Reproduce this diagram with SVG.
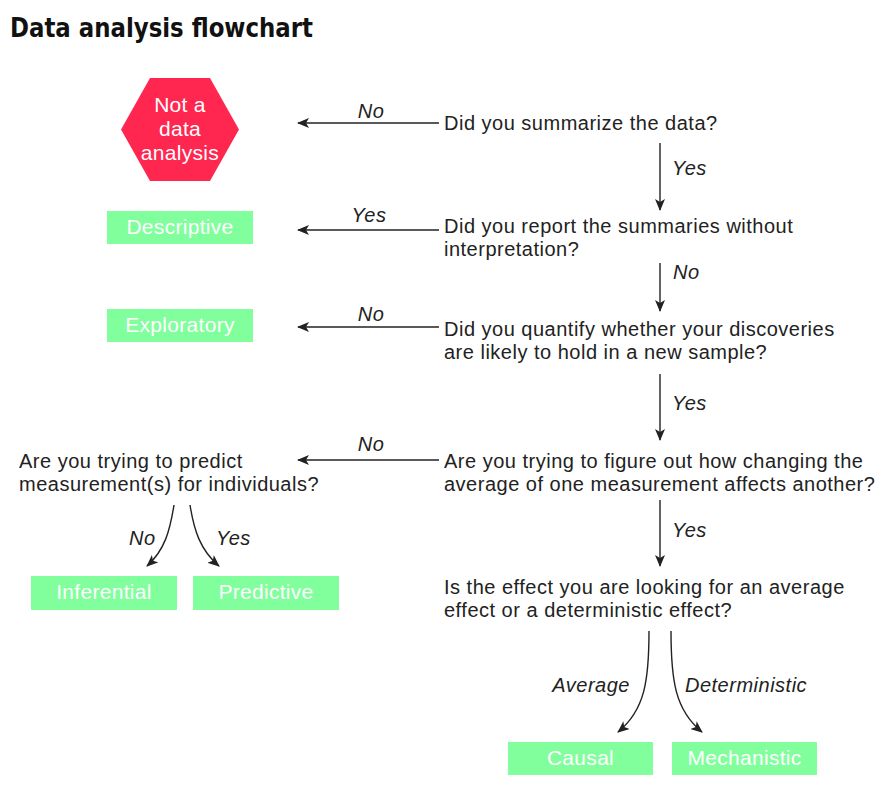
<svg xmlns="http://www.w3.org/2000/svg" width="882" height="787" viewBox="0 0 882 787">
<style>
.q{font-family:"Liberation Sans",Arial,sans-serif;font-size:20px;letter-spacing:0.5px;fill:#222}
.lbl{font-family:"Liberation Sans",Arial,sans-serif;font-size:20px;letter-spacing:0.5px;font-style:italic;fill:#222}
.box{fill:#80ff9c}
.bt{font-family:"Liberation Sans",Arial,sans-serif;font-size:21px;letter-spacing:0.3px;fill:#fff;text-anchor:middle}
.edge{fill:none;stroke:#222;stroke-width:1.4;marker-end:url(#ah)}
</style>
<defs>
<marker id="ah" viewBox="0 0 12 10" refX="11" refY="5" markerWidth="12" markerHeight="10" markerUnits="userSpaceOnUse" orient="auto">
<path d="M0,0 L12,5 L0,10 L3,5 z" fill="#222"/>
</marker>
</defs>
<rect width="882" height="787" fill="#fff"/>
<text x="10" y="37" font-family="DejaVu Sans Condensed, DejaVu Sans, sans-serif" font-weight="bold" font-size="27" fill="#111" textLength="303" lengthAdjust="spacingAndGlyphs">Data analysis flowchart</text>

<g id="not-data">
<polygon points="150,78 210,78 239,129.5 210,181 150,181 121,129.5" fill="#ff2650"/>
<text class="bt" x="180" y="112">Not a</text>
<text class="bt" x="180" y="136">data</text>
<text class="bt" x="180" y="160">analysis</text>
</g>
<g id="descriptive"><rect class="box" x="107" y="211" width="146" height="33"/><text class="bt" x="180" y="234">Descriptive</text></g>
<g id="exploratory"><rect class="box" x="107" y="309" width="146" height="33"/><text class="bt" x="180" y="332">Exploratory</text></g>
<g id="inferential"><rect class="box" x="31" y="576" width="146" height="34"/><text class="bt" x="104" y="599">Inferential</text></g>
<g id="predictive"><rect class="box" x="193" y="576" width="146" height="34"/><text class="bt" x="266" y="599">Predictive</text></g>
<g id="causal"><rect class="box" x="508" y="742" width="145" height="33"/><text class="bt" x="580.5" y="765">Causal</text></g>
<g id="mechanistic"><rect class="box" x="672" y="742" width="145" height="33"/><text class="bt" x="744.5" y="765">Mechanistic</text></g>

<g id="q1"><text class="q" x="444" y="130">Did you summarize the data?</text></g>
<g id="q2"><text class="q" x="444" y="233">Did you report the summaries without</text><text class="q" x="444" y="256">interpretation?</text></g>
<g id="q3"><text class="q" x="444" y="336">Did you quantify whether your discoveries</text><text class="q" x="444" y="359">are likely to hold in a new sample?</text></g>
<g id="q4"><text class="q" x="444" y="468">Are you trying to figure out how changing the</text><text class="q" x="444" y="491">average of one measurement affects another?</text></g>
<g id="q5"><text class="q" x="19" y="468">Are you trying to predict</text><text class="q" x="19" y="491">measurement(s) for individuals?</text></g>
<g id="q6"><text class="q" x="444" y="594">Is the effect you are looking for an average</text><text class="q" x="444" y="617">effect or a deterministic effect?</text></g>

<g id="connectors">
<path class="edge" d="M439,123 H298"/>
<text class="lbl" x="371" y="118" text-anchor="middle">No</text>
<path class="edge" d="M660,143 V210"/>
<text class="lbl" x="672" y="175">Yes</text>
<path class="edge" d="M439,230 H298"/>
<text class="lbl" x="369" y="222" text-anchor="middle">Yes</text>
<path class="edge" d="M660,263 V311"/>
<text class="lbl" x="673" y="279">No</text>
<path class="edge" d="M439,327 H298"/>
<text class="lbl" x="371" y="321" text-anchor="middle">No</text>
<path class="edge" d="M660,374 V440"/>
<text class="lbl" x="672" y="410">Yes</text>
<path class="edge" d="M439,460 H298"/>
<text class="lbl" x="371" y="451" text-anchor="middle">No</text>
<path class="edge" d="M660,500 V566"/>
<text class="lbl" x="672" y="537">Yes</text>
<path class="edge" d="M174,505 C170,530 165,550 147,566"/>
<text class="lbl" x="129" y="545">No</text>
<path class="edge" d="M190,505 C194,530 200,550 219,566"/>
<text class="lbl" x="216" y="545">Yes</text>
<path class="edge" d="M649,631 C649,680 645,710 618,732"/>
<text class="lbl" x="630" y="692" text-anchor="end">Average</text>
<path class="edge" d="M671,631 C671,680 675,710 702,732"/>
<text class="lbl" x="685" y="692">Deterministic</text>
</g>
</svg>
